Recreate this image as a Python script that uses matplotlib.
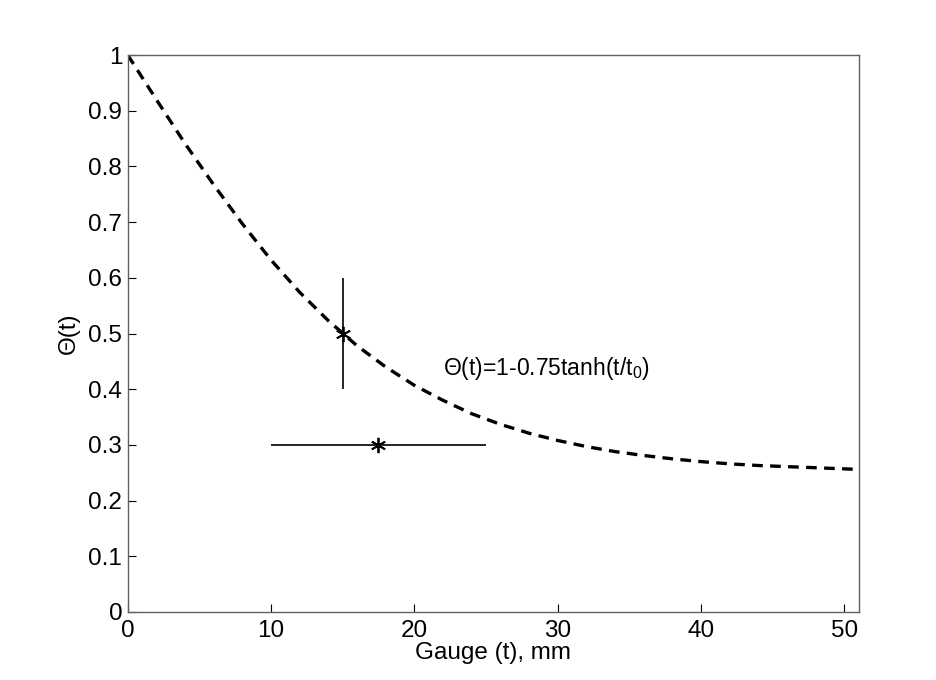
import matplotlib
matplotlib.use("Agg")
import matplotlib.pyplot as plt

plt.rcParams['font.family'] = ['Liberation Sans', 'DejaVu Sans']
plt.rcParams['mathtext.fontset'] = 'custom'
plt.rcParams['mathtext.rm'] = 'Liberation Sans'
plt.rcParams['mathtext.it'] = 'Liberation Sans:italic'

# Fitted curve
t_curve = [0, 2, 4, 6, 8, 10, 12, 14, 16, 18, 20, 22, 24, 26, 28, 30, 32, 34,
           36, 38, 40, 42, 44, 46, 48, 50, 51]
theta_curve = [1.000, 0.920, 0.841, 0.767, 0.697, 0.632, 0.574, 0.523, 0.478,
               0.440, 0.407, 0.380, 0.356, 0.337, 0.321, 0.308, 0.297, 0.288,
               0.281, 0.275, 0.270, 0.266, 0.263, 0.261, 0.259, 0.257, 0.256]

# Data point 1 with vertical error
p1_x, p1_y, p1_yerr = 15.0, 0.5, 0.1
# Data point 2 with horizontal error
p2_x, p2_y, p2_xlo, p2_xhi = 17.5, 0.3, 10.0, 25.0

xticks = [0, 10, 20, 30, 40, 50]
yticks = [0, 0.1, 0.2, 0.3, 0.4, 0.5, 0.6, 0.7, 0.8, 0.9, 1]
ytick_labels = ['0', '0.1', '0.2', '0.3', '0.4', '0.5', '0.6', '0.7', '0.8', '0.9', '1']

FS = 17.5

fig = plt.figure(figsize=(9.36, 6.8), dpi=100)
ax = fig.add_axes([127.7/936, 1 - 612/680, (859.3-127.7)/936, (612-55)/680])

ax.plot(t_curve, theta_curve, color='black', lw=2.4, linestyle=(0, (3.2, 2.2)))

star = (6, 2, 0)
ax.errorbar([p1_x], [p1_y], yerr=[[p1_yerr], [p1_yerr]], fmt='none', ecolor='black', elinewidth=1.2, capsize=0)
ax.plot([p1_x], [p1_y], marker=star, color='black', ms=11, mew=1.3, linestyle='none')
ax.errorbar([p2_x], [p2_y], xerr=[[p2_x - p2_xlo], [p2_xhi - p2_x]], fmt='none', ecolor='black', elinewidth=1.2, capsize=0)
ax.plot([p2_x], [p2_y], marker=star, color='black', ms=11, mew=1.3, linestyle='none')

ax.text(22.0, 0.438, 'Θ(t)=1-0.75tanh(t/t$_0$)', fontsize=16.5, va='center', ha='left')

ax.set_xlim(0, 51.05)
ax.set_ylim(0, 1)
ax.set_xticks(xticks)
ax.set_yticks(yticks)
ax.set_yticklabels(ytick_labels)
ax.tick_params(direction='in', length=6, width=0.8, labelsize=FS, colors='black', pad=4)
ax.tick_params(axis='x', pad=6)
for s in ax.spines.values():
    s.set_color('#606060')
    s.set_linewidth(1.0)

ax.set_xlabel('Gauge (t), mm', fontsize=FS, labelpad=0)
ax.set_ylabel('Θ(t)', fontsize=FS, labelpad=6)

fig.savefig('out.png', dpi=100)
